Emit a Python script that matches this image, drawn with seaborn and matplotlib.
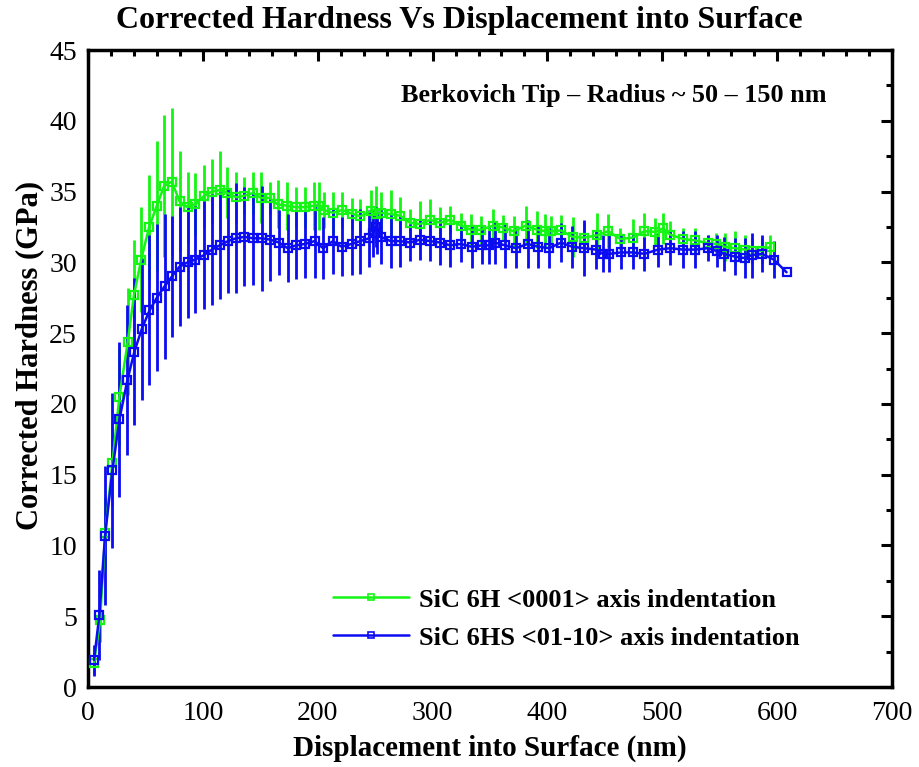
import matplotlib
matplotlib.use("Agg")
import matplotlib.pyplot as plt
import seaborn as sns
import pandas as pd
from matplotlib.ticker import MultipleLocator
from matplotlib.lines import Line2D

# ---------------- data ----------------
green_label = "SiC 6H <0001> axis indentation"
blue_label = "SiC 6HS <01-10> axis indentation"

green_x = [5.2, 10.5, 15, 21.2, 27.3, 34.6, 40, 46.3, 53.2, 59.9,
           66.3, 73, 79.7, 86.7, 93.4, 101.2, 107.9, 114.5, 121.3, 129,
           136, 143.5, 150.5, 158.1, 165, 173.3, 181.2, 188.7, 196.6, 201,
           205.3, 213.2, 221.3, 229.5, 237, 246, 250.4, 254.8, 263.5, 271.6,
           280.4, 289.1, 297.8, 306.5, 315.3, 324.6, 333.3, 342, 353, 361.5,
           370.5, 381.3, 390.9, 398.2, 403.1, 411.9, 422, 432, 443, 453,
           463.5, 474.4, 484.5, 494, 500.5, 507, 518, 528.5, 539.8, 547.1,
           554.4, 563.1, 571.9, 577.7, 586.4, 594]
green_y = [1.7, 4.7, 10.9, 15.8, 20.5, 24.4, 27.7, 30.2, 32.5, 34.0,
           35.4, 35.7, 34.3, 33.9, 34.1, 34.7, 35.0, 35.1, 34.9, 34.6,
           34.7, 34.9, 34.55, 34.55, 34.1, 34.0, 33.9, 33.9, 34.0, 34.0,
           33.7, 33.5, 33.7, 33.45, 33.25, 33.6, 33.4, 33.5, 33.4, 33.3,
           32.8, 32.7, 33.0, 32.8, 33.0, 32.6, 32.3, 32.3, 32.6, 32.45,
           32.2, 32.6, 32.3, 32.2, 32.2, 32.25, 31.8, 31.75, 31.9, 32.2,
           31.65, 31.75, 32.2, 32.15, 32.4, 31.95, 31.65, 31.55, 31.35, 31.3,
           31.1, 31.0, 30.9, 30.8, 30.8, 31.1]
green_err = [0.8, 1.5, 2.5, 3.0, 3.5, 3.8, 3.9, 3.7, 3.7, 4.6,
             5.0, 5.2, 3.6, 2.5, 2.2, 2.2, 2.3, 2.8, 1.8, 1.8,
             1.3, 1.5, 1.8, 1.1, 1.7, 1.7, 1.4, 1.4, 1.7, 1.7,
             1.3, 1.5, 1.3, 1.1, 1.2, 1.5, 2.0, 1.5, 1.7, 1.3,
             1.0, 1.6, 1.5, 1.1, 1.0, 0.9, 1.1, 1.0, 1.2, 0.9,
             1.1, 1.4, 1.3, 1.2, 1.1, 1.1, 1.4, 1.1, 1.6, 1.2,
             0.8, 1.3, 1.3, 1.0, 1.1, 1.0, 0.8, 0.9, 0.6, 0.8,
             1.0, 1.2, 1.0, 0.9, 0.9, 0.8]

blue_x = [5.2, 9.9, 14.8, 21.2, 27.3, 34.3, 40.4, 46.8, 53.5, 59.9,
          66.6, 73, 79.7, 86.7, 93.4, 100.6, 107.9, 114.6, 121.8, 128.8,
          136.1, 143.6, 151.5, 158.8, 166.1, 173.8, 181.2, 188.7, 197.2, 204.7,
          213.2, 220.8, 229.5, 237, 244.6, 248.4, 250.4, 252, 254.8, 263.5,
          271.6, 280.4, 289.1, 297.8, 306.5, 315.3, 324.6, 333.9, 342.9, 349.3,
          354.3, 363, 372.6, 382.8, 392, 401.6, 411.9, 421.5, 432.2, 442.4,
          448.3, 454, 463.7, 474.4, 484.5, 496.2, 507, 518, 528.8, 539.8,
          547.5, 553.5, 563.5, 571.8, 577.7, 586.7, 597, 608.2]
blue_y = [1.9, 5.1, 10.7, 15.3, 18.9, 21.7, 23.7, 25.3, 26.6, 27.5,
          28.3, 29.0, 29.7, 30.0, 30.2, 30.5, 30.9, 31.2, 31.5, 31.7,
          31.8, 31.7, 31.7, 31.6, 31.4, 31.0, 31.2, 31.3, 31.5, 31.0,
          31.5, 31.1, 31.3, 31.5, 31.7, 32.1, 32.5, 32.1, 31.8, 31.5,
          31.5, 31.4, 31.6, 31.5, 31.4, 31.2, 31.3, 31.1, 31.2, 31.2,
          31.4, 31.2, 31.0, 31.3, 31.1, 31.0, 31.4, 31.1, 31.0, 30.9,
          30.6, 30.6, 30.7, 30.7, 30.6, 30.9, 31.0, 30.9, 30.9, 31.0,
          30.8, 30.6, 30.4, 30.3, 30.5, 30.6, 30.2, 29.3]
blue_err = [1.1, 3.2, 4.9, 5.5, 5.5, 5.3, 5.2, 5.0, 5.3, 5.2,
            5.1, 4.3, 4.2, 3.9, 3.8, 3.8, 3.9, 3.8, 3.7, 3.9,
            3.5, 3.3, 3.7, 2.9, 2.3, 2.4, 2.4, 2.4, 2.6, 2.2,
            2.3, 2.1, 2.2, 2.3, 2.0, 1.7, 1.4, 1.5, 1.9, 1.9,
            1.8, 1.3, 1.4, 1.4, 1.6, 1.5, 1.3, 1.5, 1.3, 1.3,
            1.5, 1.6, 1.4, 1.7, 1.5, 1.4, 1.4, 1.5, 2.0, 1.4,
            1.3, 1.3, 1.2, 1.2, 1.2, 1.2, 1.2, 1.3, 1.3, 0.9,
            1.1, 1.2, 1.3, 1.4, 1.6, 1.3, 1.3, 0.0]

x_ticks = [0, 100, 200, 300, 400, 500, 600, 700]
y_ticks = [0, 5, 10, 15, 20, 25, 30, 35, 40, 45]

title = "Corrected Hardness Vs Displacement into Surface"
xlabel = "Displacement into Surface (nm)"
ylabel = "Corrected Hardness (GPa)"
note = "Berkovich Tip \u2013 Radius ~ 50 \u2013 150 nm"

# ---------------- style ----------------
sns.set_theme(style="white")
plt.rcParams["font.family"] = ["Liberation Serif", "DejaVu Serif"]
plt.rcParams["text.color"] = "black"
plt.rcParams["axes.labelcolor"] = "black"
plt.rcParams["xtick.color"] = "black"
plt.rcParams["ytick.color"] = "black"

GREEN = "#14f514"
BLUE = "#0c0cf2"

fig = plt.figure(figsize=(9.19, 7.67), dpi=100)
ax = fig.add_axes([0.0958, 0.1043, 0.8748, 0.8305])

df_g = pd.DataFrame({"x": green_x, "y": green_y, "err": green_err})
df_b = pd.DataFrame({"x": blue_x, "y": blue_y, "err": blue_err})

for df, col in [(df_g, GREEN), (df_b, BLUE)]:
    ax.errorbar(df["x"], df["y"], yerr=df["err"], fmt="none",
                ecolor=col, elinewidth=2.0, capsize=0, zorder=2)
    sns.lineplot(data=df, x="x", y="y", ax=ax, color=col, lw=1.8,
                 marker="s", markersize=5.5, markerfacecolor="none",
                 markeredgecolor=col, markeredgewidth=1.6,
                 estimator=None, sort=False, legend=False, zorder=3)

ax.set_xlim(0, 700)
ax.set_ylim(0, 45)
ax.set_xticks(x_ticks)
ax.set_yticks(y_ticks)
ax.xaxis.set_minor_locator(MultipleLocator(20))
ax.yaxis.set_minor_locator(MultipleLocator(2.5))
ax.tick_params(which="both", direction="in", top=True, right=True,
               color="black", width=2.2)
ax.tick_params(which="major", length=8, labelsize=20)
ax.tick_params(axis="x", which="major", pad=10)
ax.tick_params(axis="y", which="major", pad=8)
ax.tick_params(which="minor", length=4)
for s in ax.spines.values():
    s.set_color("black")
    s.set_linewidth(2.5)

ax.set_xlabel(xlabel, fontsize=21, fontweight="bold", labelpad=6)
ax.set_ylabel(ylabel, fontsize=22, fontweight="bold")
ax.yaxis.set_label_coords(-0.054, 0.52)
fig.suptitle(title, fontsize=23, fontweight="bold", y=0.992)
ax.text(0.918, 0.929, note, transform=ax.transAxes, ha="right", va="center",
        fontsize=18.8, fontweight="bold")

handles = [
    Line2D([0], [0], color=GREEN, lw=1.8, marker="s", markersize=5,
           markerfacecolor="none", markeredgecolor=GREEN, markeredgewidth=1.2),
    Line2D([0], [0], color=BLUE, lw=1.8, marker="s", markersize=5,
           markerfacecolor="none", markeredgecolor=BLUE, markeredgewidth=1.2),
]
leg = ax.legend(handles, [green_label, blue_label], loc="center left",
                bbox_to_anchor=(0.275, 0.107), frameon=False,
                prop={"size": 19, "weight": "bold"}, handlelength=2.9,
                handletextpad=0.38, labelspacing=0.55, borderpad=0.4)

fig.savefig("out.png", dpi=100)
